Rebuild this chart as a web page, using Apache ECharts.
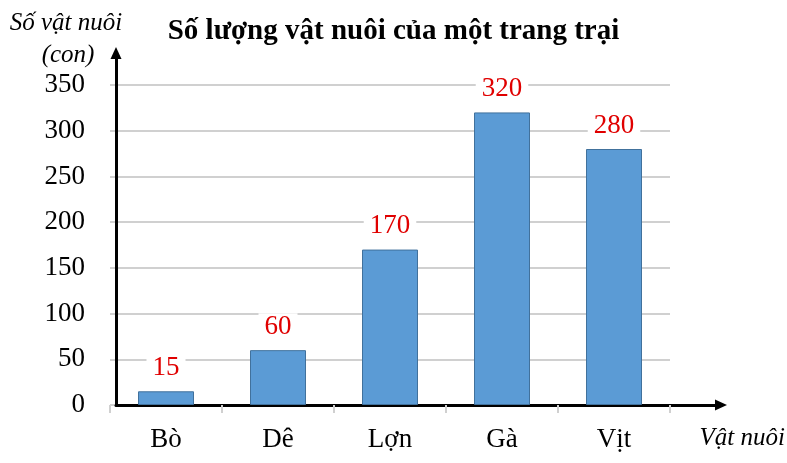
<!DOCTYPE html>
<html>
<head>
<meta charset="utf-8">
<script src="https://cdn.jsdelivr.net/npm/echarts@6/dist/echarts.min.js"></script>
<style>
  html, body { margin: 0; padding: 0; background: #fff; }
  #chart { width: 787px; height: 463px; }
</style>
</head>
<body>
<div id="chart"></div>
<script>
const FONT = "'Liberation Serif', 'Times New Roman', serif";

const categories = ["Bò", "Dê", "Lợn", "Gà", "Vịt"];
const animalCounts = [15, 60, 170, 320, 280];
const yTicks = { min: 0, max: 350, interval: 50 };

const chart = echarts.init(document.getElementById("chart"));

// black arrow axes live in a second, empty grid
const arrowAxis = {
  min: 0,
  max: 1,
  axisLine: {
    show: true,
    symbol: ["none", "triangle"],
    symbolSize: [11, 12],
    lineStyle: { color: "#000", width: 3 }
  },
  axisTick: { show: false },
  axisLabel: { show: false },
  splitLine: { show: false }
};

chart.setOption({
  animation: false,
  backgroundColor: "#fff",
  title: {
    text: "Số lượng vật nuôi của một trang trại",
    left: "center",
    top: 12,
    textStyle: { fontFamily: FONT, fontSize: 29, fontWeight: "bold", color: "#000" }
  },
  graphic: [
    {
      type: "text",
      x: 66,
      y: 23,
      style: {
        text: "Số vật nuôi",
        font: "italic 25px " + FONT,
        fill: "#000",
        align: "center",
        verticalAlign: "middle"
      }
    },
    {
      type: "text",
      x: 68,
      y: 55,
      style: {
        text: "(con)",
        font: "italic 25px " + FONT,
        fill: "#000",
        align: "center",
        verticalAlign: "middle"
      }
    },
    {
      type: "text",
      x: 785,
      y: 438,
      style: {
        text: "Vật nuôi",
        font: "italic 25px " + FONT,
        fill: "#000",
        align: "right",
        verticalAlign: "middle"
      }
    }
  ],
  grid: [
    { left: 110, right: 117, top: 85, bottom: 58 },
    { left: 116, right: 66, top: 53, bottom: 58 }
  ],
  xAxis: [
    {
      type: "category",
      data: categories,
      gridIndex: 0,
      axisLine: { show: true, lineStyle: { color: "#d0d0d0", width: 1 } },
      axisTick: { show: true, length: 8, lineStyle: { color: "#d0d0d0", width: 2 } },
      axisLabel: { fontFamily: FONT, fontSize: 27, color: "#000", margin: 21 }
    },
    Object.assign({ type: "value", gridIndex: 1 }, arrowAxis)
  ],
  yAxis: [
    {
      type: "value",
      gridIndex: 0,
      min: yTicks.min,
      max: yTicks.max,
      interval: yTicks.interval,
      axisLine: { show: false },
      axisTick: { show: false },
      axisLabel: { fontFamily: FONT, fontSize: 27, color: "#000", margin: 25 },
      splitLine: { lineStyle: { color: "#d0d0d0", width: 2 } }
    },
    Object.assign({ type: "value", gridIndex: 1 }, arrowAxis)
  ],
  series: [
    {
      type: "bar",
      xAxisIndex: 0,
      yAxisIndex: 0,
      data: animalCounts,
      barWidth: "50%",
      itemStyle: { color: "#5b9bd5", borderColor: "#41719c", borderWidth: 1 },
      label: {
        show: true,
        position: "top",
        distance: 10,
        fontFamily: FONT,
        fontSize: 27,
        color: "#e00000",
        backgroundColor: "#fff",
        padding: [0, 6]
      }
    }
  ]
});
</script>
</body>
</html>
